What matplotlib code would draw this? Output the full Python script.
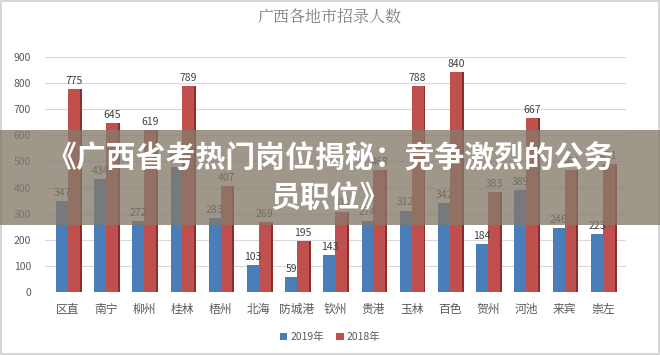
import numpy as np
import matplotlib
matplotlib.use("Agg")
import matplotlib.pyplot as plt
from matplotlib.patches import Rectangle

plt.rcParams['font.family'] = ['Noto Sans CJK SC', 'DejaVu Sans']

### DATA ###
cities = ["区直", "南宁", "柳州", "桂林", "梧州", "北海", "防城港", "钦州",
          "贵港", "玉林", "百色", "贺州", "河池", "来宾", "崇左"]
y2019 = [347, 434, 272, 480, 283, 103, 59, 143, 274, 312, 342, 184, 389, 246, 223]
y2018 = [775, 645, 619, 789, 407, 269, 195, 308, 468, 788, 840, 383, 667, 466, 491]
yticks = [0, 100, 200, 300, 400, 500, 600, 700, 800, 900]

title = "广西各地市招录人数"
banner = "《广西省考热门岗位揭秘：竞争激烈的公务\n员职位》"

### FIGURE ###
fig = plt.figure(figsize=(6.6, 3.55), dpi=100)
fig.patch.set_facecolor("white")
ax = fig.add_axes([0.068, 0.177, 0.88, 0.663])

x = np.arange(len(cities))
w = 0.31
blue, blue_dark = "#4a7ebb", "#2f5a8f"
red, red_dark = "#c0504d", "#8c2e2c"

# 3D-ish side faces
ax.bar(x - w / 2 + 0.05, y2019, w, color=blue_dark, zorder=2)
ax.bar(x + w / 2 + 0.05, y2018, w, color=red_dark, zorder=2)
ax.bar(x - w / 2, y2019, w, color=blue, label="2019年", zorder=3)
ax.bar(x + w / 2, y2018, w, color=red, label="2018年", zorder=3)

for i in range(len(cities)):
    ax.text(x[i] - w / 2, y2019[i] + 12, str(y2019[i]), ha="center", va="bottom",
            fontsize=7.5, color="#404040", zorder=4)
    ax.text(x[i] + w / 2, y2018[i] + 12, str(y2018[i]), ha="center", va="bottom",
            fontsize=7.5, color="#404040", zorder=4)

ax.set_ylim(0, 900)
ax.set_xlim(-0.6, len(cities) - 0.4)
ax.set_yticks(yticks)
ax.set_xticks(x)
ax.set_xticklabels(cities, fontsize=8.5, color="#595959")
ax.tick_params(axis="y", labelsize=7.5, colors="#595959", length=0, pad=10)
ax.tick_params(axis="x", length=0, pad=8)
ax.grid(axis="y", color="#d9d9d9", linewidth=0.8, zorder=0)
for s in ax.spines.values():
    s.set_visible(False)

fig.text(0.5, 0.95, title, ha="center", va="center", fontsize=11.5,
         color="#7f7f7f", family=["Noto Serif CJK SC", "Noto Sans CJK SC", "DejaVu Sans"])

fig.legend(loc="center", bbox_to_anchor=(0.5, 0.05), ncol=2, frameon=False,
           fontsize=7.5, handlelength=0.7, handleheight=0.7, handletextpad=0.3,
           columnspacing=1.2, labelcolor="#595959")

# outer frame
fig.patches.append(Rectangle((0.002, 0.004), 0.996, 0.992, transform=fig.transFigure,
                             fill=False, edgecolor="#d0d0d0", linewidth=1.2))

# grey banner overlay
fig.patches.append(Rectangle((0, 0.366), 1, 0.268, transform=fig.transFigure,
                             facecolor="#857a6b", alpha=0.78, zorder=10))
fig.text(0.5, 0.497, banner, ha="center", va="center", fontsize=21.5,
         fontweight="bold", color="white", linespacing=1.4, zorder=11)

fig.savefig("out.png", dpi=100)
